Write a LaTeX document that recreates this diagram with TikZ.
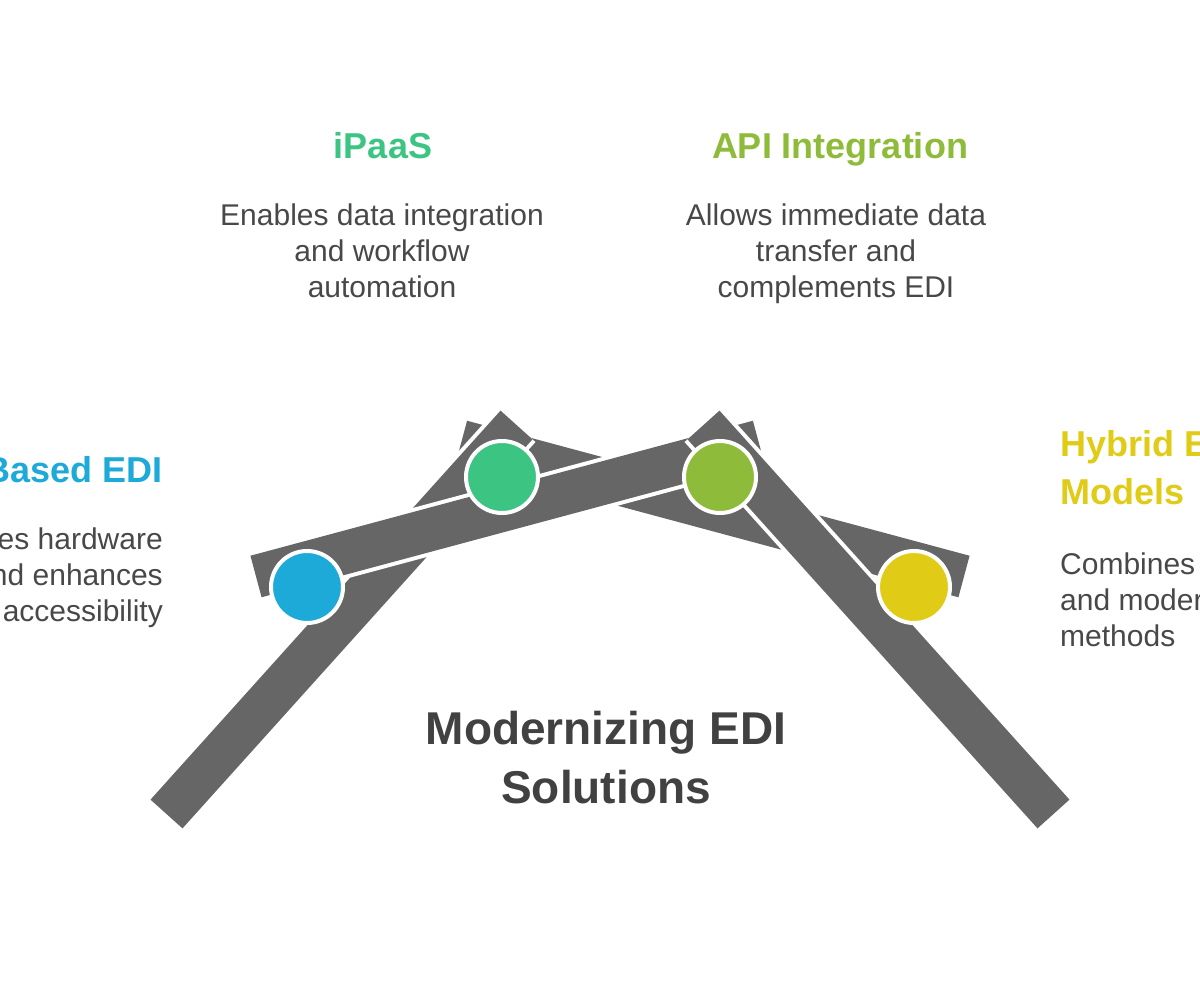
\documentclass[tikz,border=0pt]{standalone}
\usepackage{fontspec}
\setmainfont{Liberation Sans}
\definecolor{barGray}{HTML}{666666}
\definecolor{txtGray}{HTML}{484848}
\definecolor{edBlue}{HTML}{1EAAD9}
\definecolor{edGreen}{HTML}{3CC483}
\definecolor{edLime}{HTML}{8FBB3A}
\definecolor{edYellow}{HTML}{E0CB16}
\begin{document}
\begin{tikzpicture}[x=1pt,y=-1pt,
	bar/.style={white,line width=4pt,double=barGray,double distance=43pt},
	dot/.style={circle,draw=white,line width=4pt,inner sep=0pt,minimum size=72pt},
	head/.style={inner sep=0pt,font=\fontsize{36}{48}\selectfont\bfseries},
	desc/.style={inner sep=0pt,text=txtGray,font=\fontsize{30}{36}\selectfont}]
	\useasboundingbox (0,0) rectangle (1200,1008);
	\draw[bar] (461.5,441.5) -- (964,576.5);
	\draw[bar] (166.5,814) -- (516.5,425);
	\draw[bar] (256,576.5) -- (758.5,441.5);
	\draw[bar] (1053.5,814) -- (703.5,425);
	\node[dot,fill=edBlue] (cloud) at (307,587) {};
	\node[dot,fill=edGreen] (ipaas) at (502,477) {};
	\node[dot,fill=edLime] (api) at (720,477) {};
	\node[dot,fill=edYellow] (hybrid) at (914,587) {};
	\node[head,text=edGreen,anchor=north] (ipaasHead) at (383,132) {iPaaS};
	\node[desc,anchor=north,align=center] (ipaasText) at (382,204) {Enables data integration\\and workflow\\automation};
	\node[head,text=edLime,anchor=north] (apiHead) at (840,132) {API Integration};
	\node[desc,anchor=north,align=center] (apiText) at (836,204) {Allows immediate data\\transfer and\\complements EDI};
	\node[head,text=edBlue,anchor=north east] (cloudHead) at (163,456) {Based EDI};
	\node[desc,anchor=north east,align=right] (cloudText) at (163,528) {es hardware\\nd enhances\\accessibility};
	\node[head,text=edYellow,anchor=north west,align=left] (hybridHead) at (1060,430) {Hybrid E\\Models};
	\node[desc,anchor=north west,align=left] (hybridText) at (1060,553) {Combines\\and moder\\methods};
	\node[inner sep=0pt,text=txtGray!90!black,anchor=north,align=center,font=\fontsize{46}{59}\selectfont\bfseries] (title) at (606,711) {Modernizing EDI\\Solutions};
\end{tikzpicture}
\end{document}
